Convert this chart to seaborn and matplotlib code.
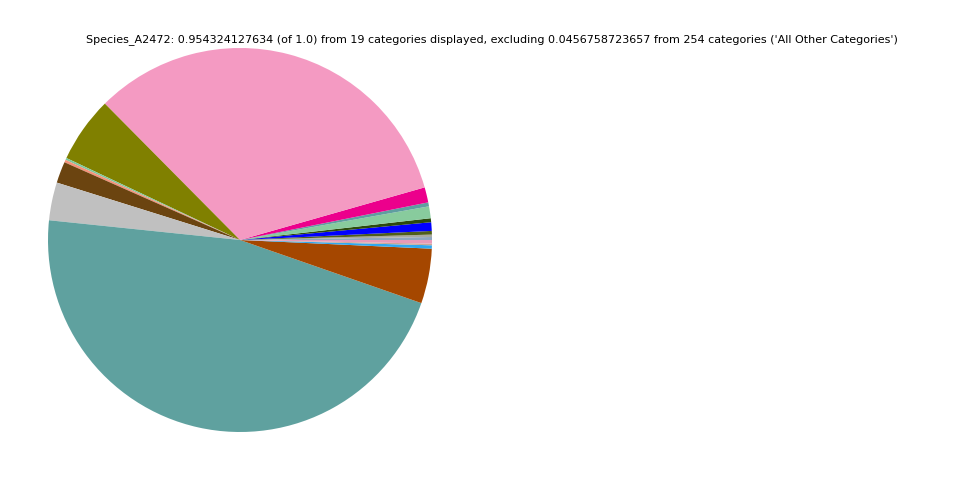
import matplotlib
matplotlib.use("Agg")
import matplotlib.pyplot as plt
import seaborn as sns

# slice fractions, counterclockwise from 3 o'clock
values = [0.0024, 0.0019, 0.0029, 0.0069, 0.0032, 0.0095, 0.0032, 0.0122,
          0.3152, 0.0530, 0.0016, 0.0021, 0.0172, 0.0305, 0.4422, 0.0440,
          0.0027, 0.0013, 0.0029]
colors = ['#8fa6bf', '#a8a8a0', '#4f5e1a', '#0000ff', '#2b4a0c', '#88cb9d',
          '#5f9ea0', '#ec008c', '#f49ac2', '#808000', '#7fc99d', '#f4927a',
          '#6b4410', '#c0c0c0', '#5fa19f', '#a54700', '#2fa8f0', '#c8a898',
          '#e89ab8']
title = ("Species_A2472: 0.954324127634 (of 1.0) from 19 categories displayed, "
         "excluding 0.0456758723657 from 254 categories ('All Other Categories')")

sns.set_style("white")
fig = plt.figure(figsize=(9.6, 4.8), dpi=100)
ax = fig.add_axes([48 / 960, 48 / 480, 384 / 960, 384 / 480])
ax.pie(values, colors=colors, startangle=0, counterclock=True, normalize=True,
       wedgeprops={'linewidth': 0, 'edgecolor': 'none'})
ax.set_xlim(-1, 1)
ax.set_ylim(-1, 1)
ax.set_aspect('equal')

fig.text(492 / 960, 1 - 39.5 / 480, title, ha='center', va='center',
         fontsize=8, color='black')

fig.savefig("out.png", dpi=100)
